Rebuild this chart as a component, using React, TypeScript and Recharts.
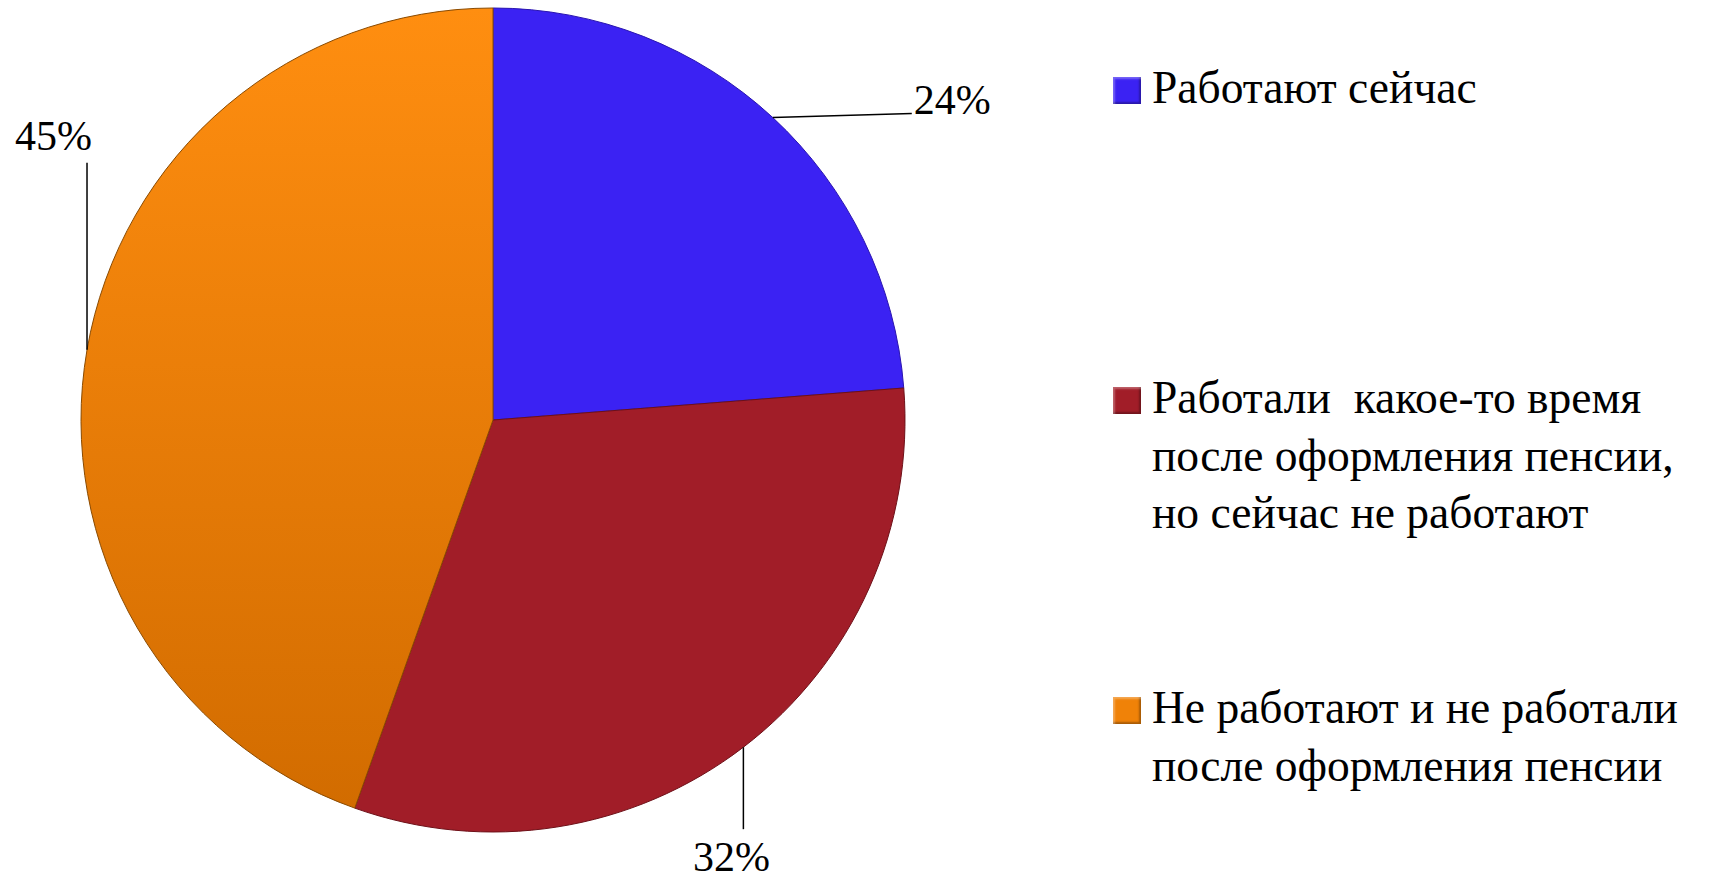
import { PieChart, Pie, Cell } from "recharts";

// categories and shares
const categories = [
  "Работают сейчас",
  "Работали  какое-то время после оформления пенсии, но сейчас не работают",
  "Не работают и не работали после оформления пенсии",
];
const legendLines = [
  ["Работают сейчас"],
  ["Работали  какое-то время", "после оформления пенсии,", "но сейчас не работают"],
  ["Не работают и не работали", "после оформления пенсии"],
];
const shares = [24, 32, 45];
const shareLabels = ["24%", "32%", "45%"];

const colors = ["#3b22f3", "#a11d28", "url(#orangeFill)"];
const swatch = ["#3b22f3", "#a11d28", "#f08208"];
const edges = ["#2a15b0", "#6e1018", "#8a4a00"];

const data = categories.map((name, i) => ({ name, value: shares[i], label: shareLabels[i] }));

const FONT = "'Liberation Serif', serif";

// where each label line goes, measured from the point on the rim
const labelPlace = [
  { lx: 139, ly: -4, tx: 141, ty: -4, anchor: "start" },
  { lx: 0, ly: 82, tx: -12, ty: 124, anchor: "middle" },
  { lx: 0, ly: -187, tx: 5, ty: -200, anchor: "end" },
];

const RAD = Math.PI / 180;

function renderLabel(props: any) {
  const { cx, cy, midAngle, outerRadius, index } = props;
  const x = cx + outerRadius * Math.cos(-midAngle * RAD);
  const y = cy + outerRadius * Math.sin(-midAngle * RAD);
  const p = labelPlace[index];
  return (
    <g key={"lbl" + index}>
      <line x1={x} y1={y} x2={x + p.lx} y2={y + p.ly} stroke="#000" strokeWidth={1.5} />
      <text
        x={x + p.tx}
        y={y + p.ty}
        textAnchor={p.anchor as any}
        fontFamily={FONT}
        fontSize={42}
        fill="#000"
      >
        {shareLabels[index]}
      </text>
    </g>
  );
}

function LegendBox() {
  const baselines = [103, 413, 723];
  return (
    <div style={{ position: "absolute", left: 0, top: 0 }}>
      {legendLines.map((lines, i) => (
        <div key={i}>
          <div
            style={{
              position: "absolute",
              left: 1113,
              top: baselines[i] - 26,
              width: 28,
              height: 27,
              background: swatch[i],
              boxShadow: "inset 2px 2px 2px rgba(255,255,255,0.3), inset -2px -2px 2px rgba(0,0,0,0.3)",
            }}
          />
          {lines.map((t, j) => (
            <div
              key={j}
              style={{
                position: "absolute",
                left: 1152,
                top: baselines[i] + j * 57.5 - 41,
                fontFamily: FONT,
                fontSize: 45.5,
                lineHeight: "52px",
                whiteSpace: "pre",
                color: "#000",
              }}
            >
              {t}
            </div>
          ))}
        </div>
      ))}
    </div>
  );
}

export default function App() {
  return (
    <div style={{ position: "absolute", left: 0, top: 0, width: 1723, height: 882, background: "#fff" }}>
      <PieChart width={1723} height={882} margin={{ top: 0, right: 0, bottom: 0, left: 0 }}>
        <defs>
          <linearGradient id="orangeFill" x1="0" y1="0" x2="0" y2="1">
            <stop offset="0%" stopColor="#ff8e10" />
            <stop offset="100%" stopColor="#d26c00" />
          </linearGradient>
        </defs>
        <Pie
          data={data}
          dataKey="value"
          nameKey="name"
          cx={493}
          cy={420}
          outerRadius={412}
          startAngle={90}
          endAngle={-270}
          label={renderLabel}
          labelLine={false}
          isAnimationActive={false}
        >
          {data.map((d, i) => (
            <Cell key={d.name} fill={colors[i]} stroke={edges[i]} strokeWidth={1} />
          ))}
        </Pie>
      </PieChart>
      <LegendBox />
    </div>
  );
}
